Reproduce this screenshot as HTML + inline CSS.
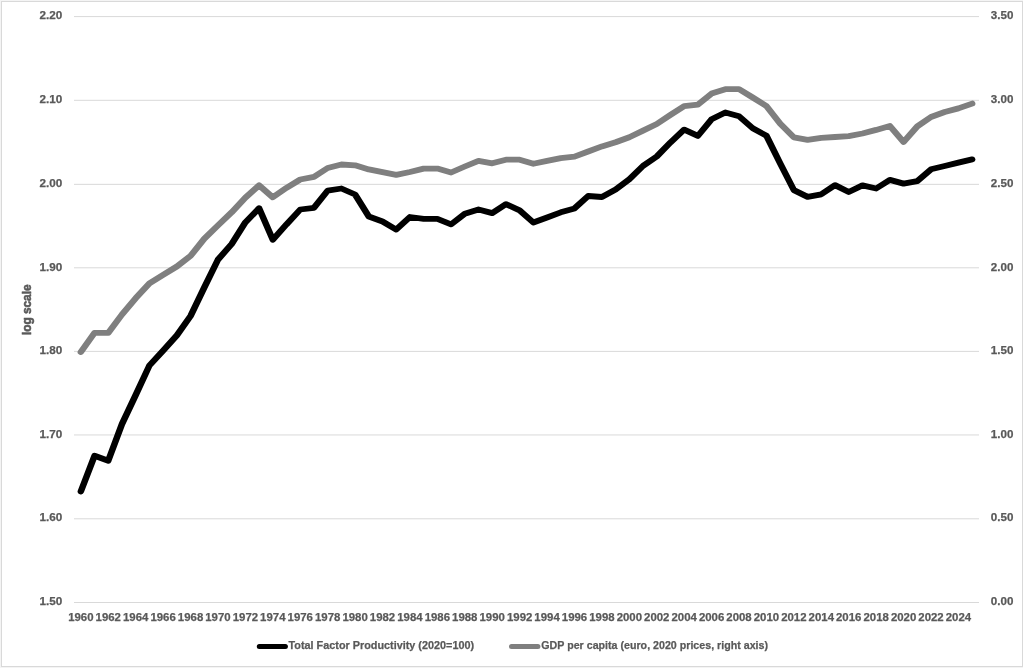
<!DOCTYPE html>
<html lang="en"><head><meta charset="utf-8"><title>Total Factor Productivity and GDP per capita</title>
<style>
html,body{margin:0;padding:0;background:#f4f4f4;}
body{width:1023px;height:668px;overflow:hidden;}
svg{display:block;}
text{font-family:"Liberation Sans",sans-serif;font-weight:bold;fill:#595959;stroke:#595959;stroke-width:0.25px;stroke-linejoin:round;}
.ax{font-size:11.5px;}
.ttl{font-size:12.4px;stroke-width:0.55px;}
</style></head><body>
<svg width="1023" height="668" viewBox="0 0 1023 668">
<rect x="0" y="0" width="1023" height="668" fill="#f4f4f4"/>
<rect x="1.5" y="1.5" width="1021" height="665" fill="#ffffff" stroke="#d9d9d9" stroke-width="1"/>

<g stroke="#d9d9d9" stroke-width="1" fill="none">
<line x1="74" y1="16.60" x2="979" y2="16.60"/>
<line x1="74" y1="100.30" x2="979" y2="100.30"/>
<line x1="74" y1="184.35" x2="979" y2="184.35"/>
<line x1="74" y1="267.80" x2="979" y2="267.80"/>
<line x1="74" y1="351.40" x2="979" y2="351.40"/>
<line x1="74" y1="434.95" x2="979" y2="434.95"/>
<line x1="74" y1="518.80" x2="979" y2="518.80"/>
<line x1="74" y1="602.50" x2="979" y2="602.50"/>
</g>
<g class="ax" text-anchor="end">
<text x="62.4" y="19.10" textLength="22.8" lengthAdjust="spacingAndGlyphs">2.20</text>
<text x="62.4" y="102.80" textLength="22.8" lengthAdjust="spacingAndGlyphs">2.10</text>
<text x="62.4" y="186.50" textLength="22.8" lengthAdjust="spacingAndGlyphs">2.00</text>
<text x="62.4" y="270.70" textLength="22.8" lengthAdjust="spacingAndGlyphs">1.90</text>
<text x="62.4" y="353.90" textLength="22.8" lengthAdjust="spacingAndGlyphs">1.80</text>
<text x="62.4" y="437.60" textLength="22.8" lengthAdjust="spacingAndGlyphs">1.70</text>
<text x="62.4" y="521.30" textLength="22.8" lengthAdjust="spacingAndGlyphs">1.60</text>
<text x="62.4" y="605.00" textLength="22.8" lengthAdjust="spacingAndGlyphs">1.50</text>
</g>
<g class="ax" text-anchor="start">
<text x="990.8" y="19.10" textLength="22.6" lengthAdjust="spacingAndGlyphs">3.50</text>
<text x="990.8" y="102.80" textLength="22.6" lengthAdjust="spacingAndGlyphs">3.00</text>
<text x="990.8" y="186.50" textLength="22.6" lengthAdjust="spacingAndGlyphs">2.50</text>
<text x="990.8" y="270.70" textLength="22.6" lengthAdjust="spacingAndGlyphs">2.00</text>
<text x="990.8" y="353.90" textLength="22.6" lengthAdjust="spacingAndGlyphs">1.50</text>
<text x="990.8" y="437.60" textLength="22.6" lengthAdjust="spacingAndGlyphs">1.00</text>
<text x="990.8" y="521.30" textLength="22.6" lengthAdjust="spacingAndGlyphs">0.50</text>
<text x="990.8" y="605.00" textLength="22.6" lengthAdjust="spacingAndGlyphs">0.00</text>
</g>
<g class="ax" text-anchor="middle">
<text x="80.86" y="621.4" textLength="25.4" lengthAdjust="spacingAndGlyphs">1960</text>
<text x="108.28" y="621.4" textLength="25.4" lengthAdjust="spacingAndGlyphs">1962</text>
<text x="135.70" y="621.4" textLength="25.4" lengthAdjust="spacingAndGlyphs">1964</text>
<text x="163.13" y="621.4" textLength="25.4" lengthAdjust="spacingAndGlyphs">1966</text>
<text x="190.55" y="621.4" textLength="25.4" lengthAdjust="spacingAndGlyphs">1968</text>
<text x="217.98" y="621.4" textLength="25.4" lengthAdjust="spacingAndGlyphs">1970</text>
<text x="245.40" y="621.4" textLength="25.4" lengthAdjust="spacingAndGlyphs">1972</text>
<text x="272.82" y="621.4" textLength="25.4" lengthAdjust="spacingAndGlyphs">1974</text>
<text x="300.25" y="621.4" textLength="25.4" lengthAdjust="spacingAndGlyphs">1976</text>
<text x="327.67" y="621.4" textLength="25.4" lengthAdjust="spacingAndGlyphs">1978</text>
<text x="355.10" y="621.4" textLength="25.4" lengthAdjust="spacingAndGlyphs">1980</text>
<text x="382.52" y="621.4" textLength="25.4" lengthAdjust="spacingAndGlyphs">1982</text>
<text x="409.94" y="621.4" textLength="25.4" lengthAdjust="spacingAndGlyphs">1984</text>
<text x="437.37" y="621.4" textLength="25.4" lengthAdjust="spacingAndGlyphs">1986</text>
<text x="464.79" y="621.4" textLength="25.4" lengthAdjust="spacingAndGlyphs">1988</text>
<text x="492.22" y="621.4" textLength="25.4" lengthAdjust="spacingAndGlyphs">1990</text>
<text x="519.64" y="621.4" textLength="25.4" lengthAdjust="spacingAndGlyphs">1992</text>
<text x="547.06" y="621.4" textLength="25.4" lengthAdjust="spacingAndGlyphs">1994</text>
<text x="574.49" y="621.4" textLength="25.4" lengthAdjust="spacingAndGlyphs">1996</text>
<text x="601.91" y="621.4" textLength="25.4" lengthAdjust="spacingAndGlyphs">1998</text>
<text x="629.34" y="621.4" textLength="25.4" lengthAdjust="spacingAndGlyphs">2000</text>
<text x="656.76" y="621.4" textLength="25.4" lengthAdjust="spacingAndGlyphs">2002</text>
<text x="684.18" y="621.4" textLength="25.4" lengthAdjust="spacingAndGlyphs">2004</text>
<text x="711.61" y="621.4" textLength="25.4" lengthAdjust="spacingAndGlyphs">2006</text>
<text x="739.03" y="621.4" textLength="25.4" lengthAdjust="spacingAndGlyphs">2008</text>
<text x="766.46" y="621.4" textLength="25.4" lengthAdjust="spacingAndGlyphs">2010</text>
<text x="793.88" y="621.4" textLength="25.4" lengthAdjust="spacingAndGlyphs">2012</text>
<text x="821.30" y="621.4" textLength="25.4" lengthAdjust="spacingAndGlyphs">2014</text>
<text x="848.73" y="621.4" textLength="25.4" lengthAdjust="spacingAndGlyphs">2016</text>
<text x="876.15" y="621.4" textLength="25.4" lengthAdjust="spacingAndGlyphs">2018</text>
<text x="903.58" y="621.4" textLength="25.4" lengthAdjust="spacingAndGlyphs">2020</text>
<text x="931.00" y="621.4" textLength="25.4" lengthAdjust="spacingAndGlyphs">2022</text>
<text x="958.42" y="621.4" textLength="25.4" lengthAdjust="spacingAndGlyphs">2024</text>
</g>
<text class="ttl" transform="translate(30.6,309.8) rotate(-90)" text-anchor="middle" textLength="50.6" lengthAdjust="spacingAndGlyphs">log scale</text>
<g transform="scale(1.12,1)">
<polyline points="72.19,491.4 84.44,455.8 96.68,460.7 108.92,424.0 121.16,395.0 133.41,365.5 145.65,350.7 157.89,335.4 170.14,316.0 182.38,287.5 194.62,259.6 206.86,244.0 219.11,222.3 231.35,208.2 243.59,239.8 255.84,224.3 268.08,209.5 280.32,207.8 292.56,190.6 304.81,188.5 317.05,194.5 329.29,216.5 341.54,221.5 353.78,229.6 366.02,217.0 378.26,218.9 390.51,218.9 402.75,224.4 414.99,213.8 427.24,209.5 439.48,213.1 451.72,204.1 463.96,210.4 476.21,222.5 488.45,217.5 500.69,212.3 512.94,208.4 525.18,196.0 537.42,197.0 549.66,189.5 561.91,179.3 574.15,165.9 586.39,156.5 598.64,142.4 610.88,129.6 623.12,135.9 635.36,119.3 647.61,112.5 659.85,116.2 672.09,128.2 684.34,135.8 696.58,163.4 708.82,190.1 721.06,196.9 733.31,194.3 745.55,185.1 757.79,192.0 770.04,185.4 782.28,188.5 794.52,179.9 806.76,183.6 819.01,181.1 831.25,169.3 843.49,166.0 855.74,162.6 867.98,159.4" fill="none" stroke="#000000" stroke-width="5.8" stroke-linecap="round" stroke-linejoin="round"/>
<polyline points="72.19,352.0 84.44,332.8 96.68,332.8 108.92,314.5 121.16,298.2 133.41,283.4 145.65,274.8 157.89,266.5 170.14,255.9 182.38,238.8 194.62,225.4 206.86,212.3 219.11,197.6 231.35,185.4 243.59,197.3 255.84,187.8 268.08,179.5 280.32,176.8 292.56,168.0 304.81,164.5 317.05,165.3 329.29,169.4 341.54,172.2 353.78,174.9 366.02,172.0 378.26,168.6 390.51,168.6 402.75,172.5 414.99,166.5 427.24,160.8 439.48,163.3 451.72,159.7 463.96,159.7 476.21,163.8 488.45,160.9 500.69,158.1 512.94,156.7 525.18,151.5 537.42,146.4 549.66,142.3 561.91,137.2 574.15,130.6 586.39,124.0 598.64,114.9 610.88,106.2 623.12,104.6 635.36,93.6 647.61,89.2 659.85,89.2 672.09,97.5 684.34,106.1 696.58,123.6 708.82,137.4 721.06,139.8 733.31,137.8 745.55,137.0 757.79,136.2 770.04,133.5 782.28,129.9 794.52,126.0 806.76,142.0 819.01,126.4 831.25,117.0 843.49,112.0 855.74,108.4 867.98,103.6" fill="none" stroke="#7f7f7f" stroke-width="5.8" stroke-linecap="round" stroke-linejoin="round"/>
</g>
<line x1="259.3" y1="646.5" x2="285.4" y2="646.5" stroke="#000000" stroke-width="5" stroke-linecap="round"/>
<text class="ax" x="288.5" y="649" textLength="185.6" lengthAdjust="spacingAndGlyphs">Total Factor Productivity (2020=100)</text>
<line x1="511.5" y1="646.5" x2="537.9" y2="646.5" stroke="#7f7f7f" stroke-width="5" stroke-linecap="round"/>
<text class="ax" x="541.3" y="649" textLength="226.7" lengthAdjust="spacingAndGlyphs">GDP per capita (euro, 2020 prices, right axis)</text>
</svg></body></html>
